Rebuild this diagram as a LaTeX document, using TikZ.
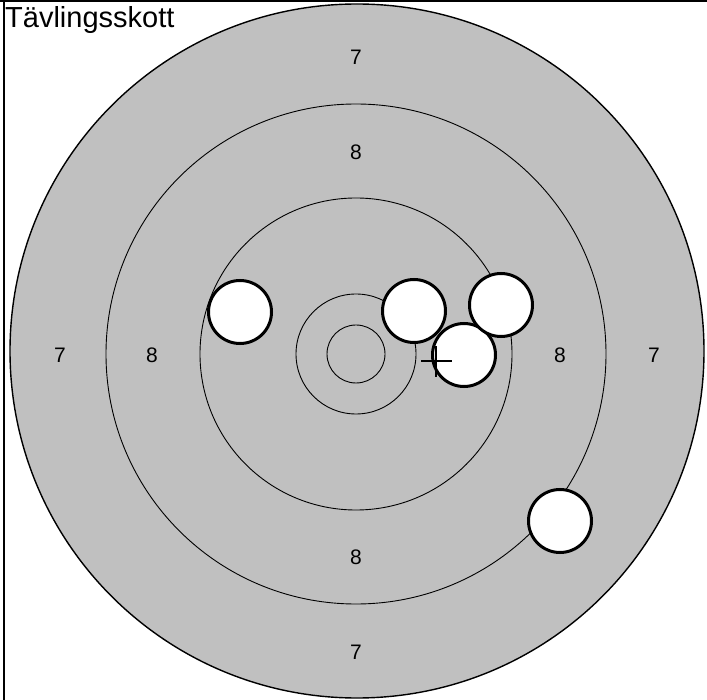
\documentclass[tikz,border=0pt]{standalone}
\usepackage{fontspec}
\setmainfont{Liberation Sans}
\definecolor{targetgray}{HTML}{C0C0C0}

\begin{document}
\begin{tikzpicture}[
        x=1pt, y=-1pt,
        ring/.style={draw, line width=0.9pt},
        hole/.style={draw, circle, fill=white, line width=3pt, minimum size=63pt, inner sep=0pt},
        score/.style={font=\fontsize{21}{21}\selectfont, inner sep=0pt},
        cross/.style={draw, line width=1.5pt},
    ]
    \useasboundingbox (0,0) rectangle (707,700);
    % frame at top and left
    \draw[line width=2pt] (0,1) -- (707,1);
    \draw[line width=2pt] (3.5,0) -- (3.5,700);
    % target face
    \coordinate (mid) at (356,354);
    \filldraw[fill=targetgray, line width=1.4pt] (357,351) circle[radius=347pt];
    \draw[ring] (mid) circle[radius=250pt];
    \draw[ring] (mid) circle[radius=156pt];
    \draw[ring] (mid) circle[radius=60pt];
    \draw[ring] (mid) circle[radius=29pt];
    % ring values
    \node[score](w7) at (60,355){7};
    \node[score](e7) at (654,355){7};
    \node[score](n7) at (356,57){7};
    \node[score](s7) at (356,652){7};
    \node[score](w8) at (152,355){8};
    \node[score](e8) at (560,355){8};
    \node[score](n8) at (356,152){8};
    \node[score](s8) at (356,557){8};
    % shots
    \node[hole](shot1) at (240,312){};
    \node[hole](shot4) at (464,355){};
    \node[hole](shot2) at (414,311){};
    \node[hole](shot3) at (501,305){};
    \node[hole](shot5) at (560,521){};
    % mean point of impact
    \coordinate (mpi) at (436,361);
    \draw[cross] ([xshift=-15pt]mpi) -- ([xshift=16pt]mpi);
    \draw[cross] ([yshift=15pt]mpi) -- ([yshift=-16pt]mpi);
    % title
    \node[anchor=base west, inner sep=0pt, font=\fontsize{29}{29}\selectfont](title) at (5,28){Tävlingsskott};
\end{tikzpicture}
\end{document}
